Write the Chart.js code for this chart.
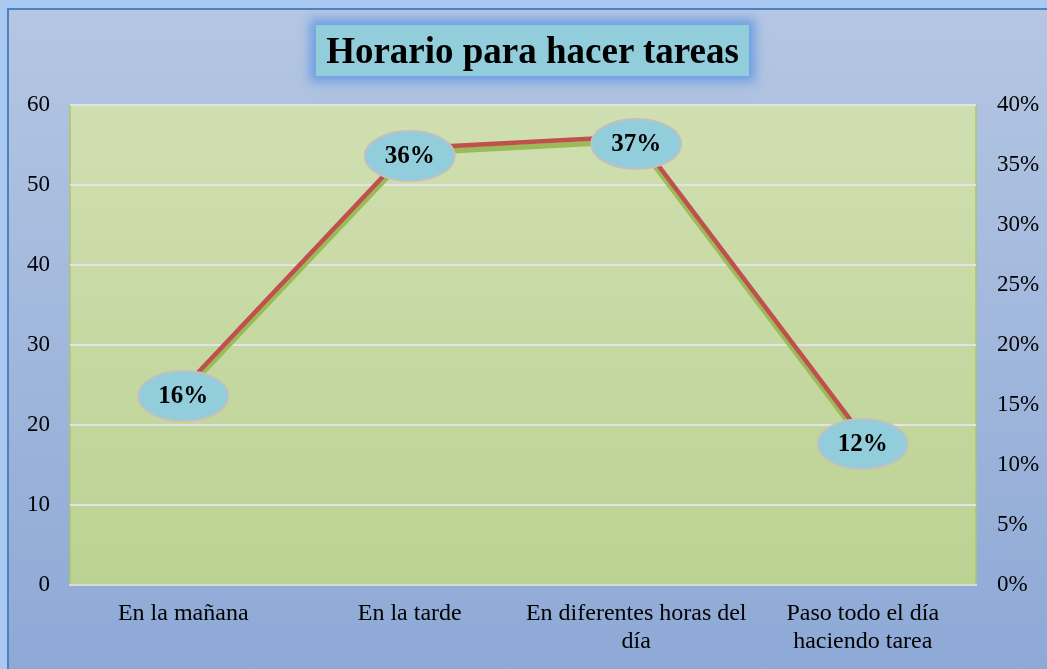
<!DOCTYPE html>
<html>
<head>
<meta charset="utf-8">
<script src="https://cdn.jsdelivr.net/npm/chart.js@4"></script>
<style>
    html, body { margin: 0; padding: 0; }
    body { width: 1047px; height: 669px; overflow: hidden; position: relative; background: #a9c9f1; }
    #frame {
        position: absolute; left: 7px; top: 8px; width: 1060px; height: 680px;
        border-left: 2px solid #4f81bd; border-top: 2px solid #4f81bd;
        background: linear-gradient(to bottom, #b4c6e2, #8da8d6);
    }
    #wrap { position: absolute; left: 0; top: 0; width: 1047px; height: 669px; }
    #title {
        position: absolute; left: 316px; top: 25px; width: 433px; height: 51px;
        background: #92cddc; box-shadow: 0 0 10px 6px #6e9fe2;
        font: bold 37px 'Times New Roman', 'Liberation Serif', serif; color: #000;
        text-align: center; line-height: 52px; white-space: nowrap;
    }
</style>
</head>
<body>
<div id="frame"></div>
<div id="wrap"><canvas id="chart" width="1047" height="669"></canvas></div>
<div id="title">Horario para hacer tareas</div>
<script>
    const categories = ['En la mañana', 'En la tarde', ['En diferentes horas del', 'día'], ['Paso todo el día', 'haciendo tarea']];
    const counts = [24.6, 54.6, 56.1, 18.6];
    const percents = [0.16, 0.36, 0.37, 0.12];
    const percentLabels = ['16%', '36%', '37%', '12%'];

    const serif = "'Times New Roman', 'Liberation Serif', serif";

    // plot area gradient and border
    const plotBg = {
        id: 'plotBg',
        beforeDraw(chart) {
            const { ctx, chartArea: a } = chart;
            const g = ctx.createLinearGradient(0, a.top, 0, a.bottom);
            g.addColorStop(0, '#d0dfb1');
            g.addColorStop(1, '#bcd293');
            ctx.save();
            ctx.fillStyle = g;
            ctx.fillRect(a.left, a.top, a.right - a.left, a.bottom - a.top);
            ctx.strokeStyle = '#a8c76a';
            ctx.lineWidth = 1.5;
            ctx.strokeRect(a.left, a.top, a.right - a.left, a.bottom - a.top);
            ctx.restore();
        }
    };

    // ellipse data labels on the percent series
    const bubbleLabels = {
        id: 'bubbleLabels',
        afterDatasetsDraw(chart) {
            const { ctx } = chart;
            const meta = chart.getDatasetMeta(1);
            ctx.save();
            meta.data.forEach((pt, i) => {
                const x = pt.x, y = pt.y + 3;
                ctx.beginPath();
                ctx.ellipse(x, y, 45, 25, 0, 0, Math.PI * 2);
                ctx.fillStyle = '#92cddc';
                ctx.fill();
                ctx.lineWidth = 2;
                ctx.strokeStyle = '#c0c0c0';
                ctx.stroke();
                ctx.fillStyle = '#000';
                ctx.font = 'bold 25px ' + serif;
                ctx.textAlign = 'center';
                ctx.textBaseline = 'middle';
                ctx.fillText(percentLabels[i], x, y + 1);
            });
            ctx.restore();
        }
    };

    const ctx = document.getElementById('chart').getContext('2d');
    new Chart(ctx, {
        type: 'line',
        data: {
            labels: categories,
            datasets: [
                {
                    label: 'Cantidad',
                    data: counts,
                    yAxisID: 'y',
                    borderColor: '#c0504d',
                    borderWidth: 4.5,
                    pointRadius: 0,
                    tension: 0
                },
                {
                    label: 'Porcentaje',
                    data: percents,
                    yAxisID: 'y1',
                    borderColor: '#9bbb59',
                    borderWidth: 5.5,
                    pointRadius: 0,
                    tension: 0
                }
            ]
        },
        options: {
            responsive: false,
            animation: false,
            layout: { padding: { top: 105, left: 0, right: 0, bottom: 0 } },
            plugins: {
                legend: { display: false },
                title: { display: false },
                tooltip: { enabled: false }
            },
            scales: {
                x: {
                    offset: true,
                    grid: { display: false, drawTicks: false },
                    border: { color: '#d9d9d9', width: 2 },
                    ticks: {
                        color: '#000', padding: 15, maxRotation: 0, autoSkip: false,
                        font: { family: serif, size: 24, lineHeight: 1.15 }
                    },
                    afterFit(s) { s.height = 84; }
                },
                y: {
                    position: 'left',
                    min: 0, max: 60,
                    grid: { color: '#e3e3e3', lineWidth: 2, drawTicks: false },
                    border: { display: false },
                    ticks: {
                        stepSize: 10, color: '#000', padding: 20,
                        font: { family: serif, size: 23 }
                    },
                    afterFit(s) { s.width = 70; }
                },
                y1: {
                    position: 'right',
                    min: 0, max: 0.4,
                    grid: { display: false, drawTicks: false },
                    border: { display: false },
                    ticks: {
                        stepSize: 0.05, color: '#000', padding: 21,
                        font: { family: serif, size: 23 },
                        callback: v => Math.round(v * 100) + '%'
                    },
                    afterFit(s) { s.width = 71; }
                }
            }
        },
        plugins: [plotBg, bubbleLabels]
    });
</script>
</body>
</html>
